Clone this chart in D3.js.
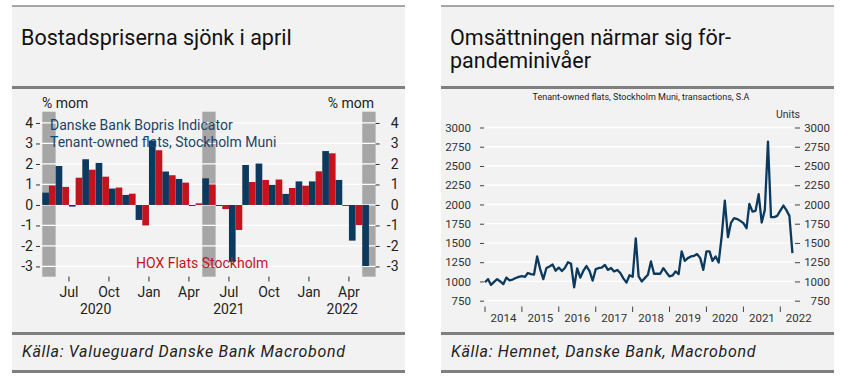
<!DOCTYPE html>
<html>
<head>
<meta charset="UTF-8">
<script src="https://d3js.org/d3.v7.min.js"></script>
<style>
  body { margin: 0; background: #fff; }
  svg text { font-family: Roboto, "DejaVu Sans", sans-serif; }
</style>
</head>
<body>
<svg id="chart" width="845" height="389"></svg>
<script>
// ---- left chart data: % mom, May 2020 .. May 2022
var months = ["2020-05","2020-06","2020-07","2020-08","2020-09","2020-10","2020-11","2020-12",
              "2021-01","2021-02","2021-03","2021-04","2021-05","2021-06","2021-07","2021-08",
              "2021-09","2021-10","2021-11","2021-12","2022-01","2022-02","2022-03","2022-04","2022-05"];
var bopris = [0.6, 1.9, -0.08, 2.23, 2.05, 0.8, 0.49, -0.73, 3.14, 1.63, 1.27, -0.04, 1.3,
              -0.02, -2.77, 1.95, 2.02, 0.98, 0.54, 1.15, 1.15, 2.63, 1.22, -1.74, -2.98];
var hox    = [0.94, 0.88, 1.33, 1.72, 1.38, 0.85, 0.55, -1.0, 2.67, 1.45, 1.09, 0.08, 1.0,
              -0.2, -1.22, 1.12, 1.22, 1.24, 0.83, 0.94, 1.64, 2.52, -0.03, -0.98, null];
var shaded = ["2020-05", "2021-05", "2022-05"];
var monthTicks = [{m:"2020-07", t:"Jul"}, {m:"2020-10", t:"Oct"}, {m:"2021-01", t:"Jan"}, {m:"2021-04", t:"Apr"},
                  {m:"2021-07", t:"Jul"}, {m:"2021-10", t:"Oct"}, {m:"2022-01", t:"Jan"}, {m:"2022-04", t:"Apr"}];
var yearLabels = [{i:4, t:"2020"}, {i:14, t:"2021"}, {i:22.5, t:"2022"}];
var pctTicks = [-3, -2, -1, 0, 1, 2, 3, 4];

// ---- right chart data: transactions, monthly from Jan 2014
var txStart = new Date(2014, 0, 1);
var transactions = [990, 1030, 955, 995, 1030, 1000, 965, 1050, 1015, 1025, 1045, 1060,
                    1070, 1060, 1110, 1095, 1090, 1325, 1160, 1030, 1175, 1195, 1220, 1140,
                    1180, 1135, 1175, 1250, 1230, 925, 1170, 1050, 1140, 1200, 1135, 1010,
                    1160, 1175, 1180, 1215, 1150, 1175, 1130, 1150, 1110, 1040, 985, 1080,
                    1060, 1560, 1065, 1000, 1043, 1087, 1260, 1100, 1100, 1100, 1173, 1117,
                    1065, 1078, 1130, 1095, 1390, 1268, 1303, 1325, 1333, 1355, 1303, 1150,
                    1390, 1390, 1268, 1325, 1245, 1600, 2050, 1575, 1765, 1822, 1810, 1787,
                    1757, 1692, 2008, 1908, 1917, 2133, 1765, 1930, 2816, 1835, 1835, 1852,
                    1920, 1986, 1930, 1852, 1368];
var unitTicks = [750, 1000, 1250, 1500, 1750, 2000, 2250, 2500, 2750, 3000];
var years = [2014, 2015, 2016, 2017, 2018, 2019, 2020, 2021, 2022];

var BLUE = "#0c3a5e", RED = "#c2131f", SHADE = "#a6a6a6", BG = "#f2f2f2";

var svg = d3.select("#chart");

function panel(x0, w, titles, source) {
  var g = svg.append("g");
  g.append("rect").attr("x", x0).attr("y", 6).attr("width", w).attr("height", 366).attr("fill", BG);
  g.append("line").attr("x1", x0).attr("x2", x0 + w).attr("y1", 6).attr("y2", 6)
    .attr("stroke", "#8a8a8a").attr("stroke-width", 1.5);
  [87.5, 333.5, 371.5].forEach(function(y) {
    g.append("line").attr("x1", x0).attr("x2", x0 + w).attr("y1", y).attr("y2", y)
      .attr("stroke", "#7f7f7f").attr("stroke-width", 3);
  });
  titles.forEach(function(t, i) {
    g.append("text").attr("x", x0 + 9).attr("y", 44.5 + i * 23).text(t)
      .style("font-size", "21.5px").attr("fill", "#111");
  });
  g.append("text").attr("x", x0 + 10).attr("y", 357).text(source)
    .style("font-size", "16px").style("letter-spacing", "0.7px")
    .style("font-style", "italic").attr("fill", "#222");
}

panel(12, 393, ["Bostadspriserna sjönk i april"], "Källa: Valueguard Danske Bank Macrobond");
panel(441, 393, ["Omsättningen närmar sig för-", "pandeminivåer"], "Källa: Hemnet, Danske Bank, Macrobond");

// ================= left chart =================
var x = d3.scaleBand().domain(months).range([42.3, 375.6]).paddingInner(0).paddingOuter(0);
var y = d3.scaleLinear().domain([-3.5, 4.55]).range([276.7, 111.7]);
var L = svg.append("g");

L.selectAll("rect.shade").data(shaded).enter().append("rect")
  .attr("x", function(d) { return x(d); }).attr("width", x.bandwidth())
  .attr("y", y(4.55)).attr("height", y(-3.5) - y(4.55)).attr("fill", SHADE);

L.selectAll("line.grid").data(pctTicks).enter().append("line")
  .attr("x1", 40).attr("x2", 375.6)
  .attr("y1", function(d) { return y(d); }).attr("y2", function(d) { return y(d); })
  .attr("stroke", "#fff").attr("stroke-width", 1.3);

var bw = x.bandwidth() / 2;
L.selectAll("rect.blue").data(months).enter().append("rect")
  .attr("x", function(d) { return x(d); }).attr("width", bw)
  .attr("y", function(d, i) { return y(Math.max(0, bopris[i])); })
  .attr("height", function(d, i) { return Math.max(1, Math.abs(y(bopris[i]) - y(0))); })
  .attr("fill", BLUE);
L.selectAll("rect.red").data(months.filter(function(d, i) { return hox[i] !== null; })).enter().append("rect")
  .attr("x", function(d) { return x(d) + bw; }).attr("width", bw)
  .attr("y", function(d, i) { return y(Math.max(0, hox[i])); })
  .attr("height", function(d, i) { return Math.max(1, Math.abs(y(hox[i]) - y(0))); })
  .attr("fill", RED);

var fmt = function(d) { return String(d); };
var axL = L.append("g").attr("transform", "translate(40,0)")
  .call(d3.axisLeft(y).tickValues(pctTicks).tickFormat(fmt).tickSize(4).tickPadding(3));
var axR = L.append("g").attr("transform", "translate(375.6,0)")
  .call(d3.axisRight(y).tickValues(pctTicks).tickFormat(fmt).tickSize(4).tickPadding(19));
axR.selectAll("text").attr("text-anchor", "end");
[axL, axR].forEach(function(a) {
  a.select(".domain").remove();
  a.selectAll("line").attr("stroke", "#333");
  a.selectAll("text").style("font-size", "14px").attr("fill", "#222");
});

L.append("text").attr("x", 42).attr("y", 108).text("% mom").style("font-size", "14px").attr("fill", "#222");
L.append("text").attr("x", 374).attr("y", 108).attr("text-anchor", "end").text("% mom")
  .style("font-size", "14px").attr("fill", "#222");

var mt = L.selectAll("g.mt").data(monthTicks).enter().append("g")
  .attr("transform", function(d) { return "translate(" + x(d.m) + ",0)"; });
mt.append("line").attr("y1", 276.5).attr("y2", 281.5).attr("stroke", "#333");
mt.append("text").attr("y", 296.5).attr("text-anchor", "middle").text(function(d) { return d.t; })
  .style("font-size", "14px").attr("fill", "#222");
L.selectAll("text.yr").data(yearLabels).enter().append("text")
  .attr("x", function(d) { return 42.3 + d.i * x.step(); }).attr("y", 313.5)
  .attr("text-anchor", "middle").text(function(d) { return d.t; })
  .style("font-size", "14px").attr("fill", "#222");

L.append("text").attr("x", 50).attr("y", 130).text("Danske Bank Bopris Indicator")
  .style("font-size", "14px").attr("fill", "#1c4466");
L.append("text").attr("x", 50).attr("y", 146.5).text("Tenant-owned flats, Stockholm Muni")
  .style("font-size", "14px").attr("fill", "#1c4466");
L.append("text").attr("x", 136).attr("y", 268).text("HOX Flats Stockholm")
  .style("font-size", "14px").attr("fill", RED);

// ================= right chart =================
var txData = transactions.map(function(v, i) { return {d: d3.timeMonth.offset(txStart, i), v: v}; });
var tx = d3.scaleTime().domain([new Date(2014, 0, 1), new Date(2022, 0, 1)]).range([485, 780.3]);
var ty = d3.scaleLinear().domain([750, 3000]).range([300.7, 127.5]);
var R = svg.append("g");

R.selectAll("line.grid").data(unitTicks).enter().append("line")
  .attr("x1", 486).attr("x2", 793)
  .attr("y1", function(d) { return ty(d); }).attr("y2", function(d) { return ty(d); })
  .attr("stroke", "#fff").attr("stroke-width", 1.3);

var rl = R.append("g").attr("transform", "translate(484,0)")
  .call(d3.axisLeft(ty).tickValues(unitTicks).tickFormat(fmt).tickSize(4).tickPadding(9));
var rr = R.append("g").attr("transform", "translate(795,0)")
  .call(d3.axisRight(ty).tickValues(unitTicks).tickFormat(fmt).tickSize(5).tickPadding(30));
rr.selectAll("text").attr("text-anchor", "end");
[rl, rr].forEach(function(a) {
  a.select(".domain").remove();
  a.selectAll("line").attr("stroke", "#444");
  a.selectAll("text").style("font-size", "11.5px").attr("fill", "#333");
});

var yt = R.selectAll("g.yt").data(years).enter().append("g")
  .attr("transform", function(d) { return "translate(" + tx(new Date(d, 0, 1)) + ",0)"; });
yt.append("line").attr("y1", 306.5).attr("y2", 312).attr("stroke", "#444");
yt.append("text").attr("x", 18.5).attr("y", 321.5).attr("text-anchor", "middle")
  .text(function(d) { return d; }).style("font-size", "11.5px").attr("fill", "#333");

R.append("path").datum(txData)
  .attr("d", d3.line().x(function(d) { return tx(d.d); }).y(function(d) { return ty(d.v); }))
  .attr("fill", "none").attr("stroke", BLUE).attr("stroke-width", 2.3).attr("stroke-linejoin", "round");

R.append("text").attr("x", 641).attr("y", 100).attr("text-anchor", "middle")
  .text("Tenant-owned flats, Stockholm Muni, transactions, S.A")
  .style("font-size", "9px").attr("fill", "#222");
R.append("text").attr("x", 800).attr("y", 118).attr("text-anchor", "end").text("Units")
  .style("font-size", "10.5px").attr("fill", "#333");
</script>
</body>
</html>
